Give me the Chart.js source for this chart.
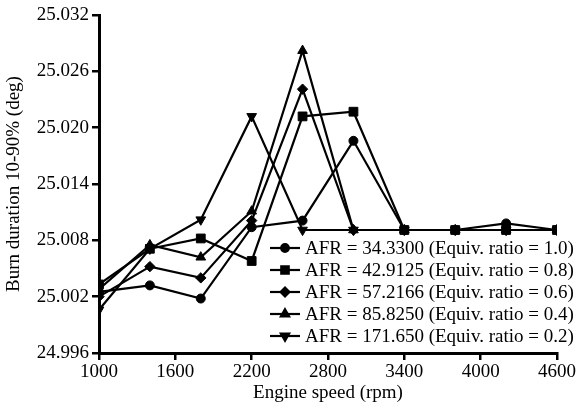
<!DOCTYPE html>
<html>
<head>
<meta charset="utf-8">
<script src="https://cdn.jsdelivr.net/npm/chart.js@4.4.1/dist/chart.umd.min.js"></script>
<style>
  html, body { margin: 0; padding: 0; background: #fff; }
  #wrap { width: 582px; height: 414px; position: relative; }
</style>
</head>
<body>
<div id="wrap"><canvas id="c" width="582" height="414"></canvas></div>
<script>
// Engine speed (rpm) sample points
const rpm = [1000, 1400, 1800, 2200, 2600, 3000, 3400, 3800, 4200, 4600];

// Burn duration 10-90% (deg) for each air-fuel ratio
const afr34 = [25.0025, 25.0032, 25.0018, 25.0094, 25.0101, 25.0186, 25.0091, 25.0091, 25.0098, 25.0091];
const afr42 = [25.0033, 25.0071, 25.0082, 25.0058, 25.0212, 25.0217, 25.0091, 25.0091, 25.0091, 25.0091];
const afr57 = [25.0020, 25.0052, 25.0040, 25.0101, 25.0241, 25.0091, 25.0091, 25.0091, 25.0091, 25.0091];
const afr85 = [25.0028, 25.0075, 25.0062, 25.0111, 25.0282, 25.0091, 25.0091, 25.0091, 25.0091, 25.0091];
const afr171 = [25.0006, 25.0071, 25.0102, 25.0212, 25.0091, 25.0091, 25.0091, 25.0091, 25.0091, 25.0091];

const seriesLabels = [
  'AFR = 34.3300 (Equiv. ratio = 1.0)',
  'AFR = 42.9125 (Equiv. ratio = 0.8)',
  'AFR = 57.2166 (Equiv. ratio = 0.6)',
  'AFR = 85.8250 (Equiv. ratio = 0.4)',
  'AFR = 171.650 (Equiv. ratio = 0.2)'
];

// Axis tick values
const xTicks = [1000, 1600, 2200, 2800, 3400, 4000, 4600];
const yTicks = [24.996, 25.002, 25.008, 25.014, 25.020, 25.026, 25.032];

const FONT = '"Liberation Serif", "Times New Roman", serif';

const markers = [
  { style: 'circle',   radius: 4.5, rotation: 0 },
  { style: 'rect',     radius: 6.2, rotation: 0 },
  { style: 'rectRot',  radius: 5.2, rotation: 0 },
  { style: 'triangle', radius: 5.6, rotation: 0 },
  { style: 'triangle', radius: 5.6, rotation: 180 }
];

const values = [afr34, afr42, afr57, afr85, afr171];

const datasets = values.map((vals, i) => ({
  label: seriesLabels[i],
  data: rpm.map((r, k) => ({ x: r, y: vals[k] })),
  borderColor: '#000',
  backgroundColor: '#000',
  borderWidth: 2.2,
  pointStyle: markers[i].style,
  pointRadius: markers[i].radius,
  pointRotation: markers[i].rotation,
  pointBorderWidth: 1,
  pointBackgroundColor: '#000',
  pointBorderColor: '#000',
  tension: 0,
  fill: false
}));

// Legend drawn inside the plot: short line, marker, label
const lineLegend = {
  id: 'lineLegend',
  afterDatasetsDraw(chart) {
    const ctx = chart.ctx;
    const x0 = 270, x1 = 300, top = 248, step = 22;
    ctx.save();
    ctx.font = '19px ' + FONT;
    ctx.fillStyle = '#000';
    ctx.strokeStyle = '#000';
    ctx.textBaseline = 'middle';
    ctx.textAlign = 'left';
    seriesLabels.forEach((lab, i) => {
      const y = top + i * step;
      ctx.lineWidth = 2.2;
      ctx.beginPath();
      ctx.moveTo(x0, y);
      ctx.lineTo(x1, y);
      ctx.stroke();
      ctx.fillStyle = '#000';
      Chart.helpers.drawPoint(ctx, {
        pointStyle: markers[i].style,
        radius: markers[i].radius * 0.85,
        rotation: markers[i].rotation,
        borderWidth: 1
      }, (x0 + x1) / 2, y);
      ctx.fillText(lab, 305, y + 1);
    });
    ctx.restore();
  }
};

new Chart(document.getElementById('c'), {
  type: 'line',
  data: { datasets },
  options: {
    responsive: false,
    animation: false,
    layout: { padding: { top: 15, right: 25, bottom: 10, left: 0 } },
    plugins: { legend: { display: false }, tooltip: { enabled: false } },
    scales: {
      x: {
        type: 'linear',
        min: 1000,
        max: 4600,
        afterBuildTicks: (s) => { s.ticks = xTicks.map(v => ({ value: v })); },
        afterFit: (s) => { s.height = 51; },
        border: { display: true, color: '#000', width: 3 },
        grid: { drawOnChartArea: false, drawTicks: true, tickLength: 7, color: '#000', lineWidth: 2.5 },
        ticks: {
          color: '#000',
          font: { family: FONT, size: 19 },
          padding: 1,
          maxRotation: 0,
          callback: (v) => String(v)
        },
        title: {
          display: true,
          text: 'Engine speed (rpm)',
          color: '#000',
          font: { family: FONT, size: 19 },
          padding: { top: 0, bottom: 0 }
        }
      },
      y: {
        type: 'linear',
        min: 24.996,
        max: 25.032,
        afterBuildTicks: (s) => { s.ticks = yTicks.map(v => ({ value: v })); },
        afterFit: (s) => { s.width = 99; },
        border: { display: true, color: '#000', width: 3 },
        grid: { drawOnChartArea: false, drawTicks: true, tickLength: 7, color: '#000', lineWidth: 2.5 },
        ticks: {
          color: '#000',
          font: { family: FONT, size: 19 },
          padding: 3,
          callback: (v) => Number(v).toFixed(3)
        },
        title: {
          display: true,
          text: 'Burn duration 10-90% (deg)',
          color: '#000',
          font: { family: FONT, size: 19 },
          padding: { top: 3, bottom: 0 }
        }
      }
    }
  },
  plugins: [lineLegend]
});
</script>
</body>
</html>
